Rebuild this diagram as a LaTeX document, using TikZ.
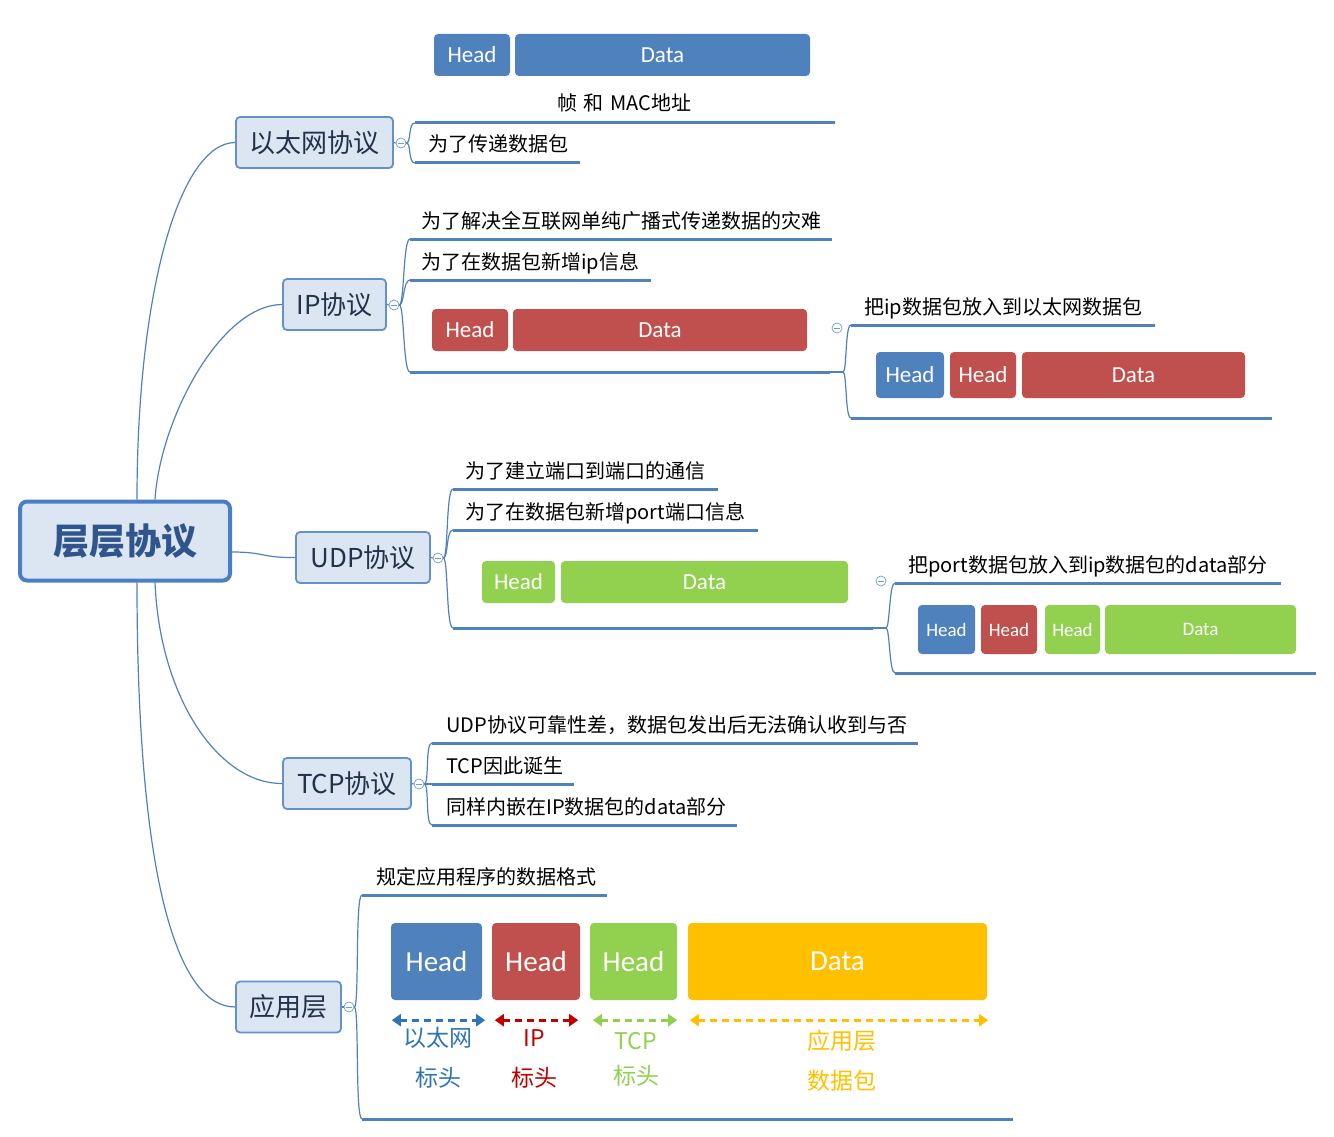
\documentclass[tikz,border=0pt]{standalone}
\usepackage{fontspec}
\setmainfont{Noto Sans CJK SC}
\newfontfamily\lat{Carlito}
\usetikzlibrary{arrows.meta}
\definecolor{lnc}{RGB}{79,129,189}
\definecolor{nfill}{RGB}{220,230,242}
\definecolor{nbord}{RGB}{100,145,200}
\definecolor{rbord}{RGB}{74,126,199}
\definecolor{pblue}{RGB}{79,129,189}
\definecolor{pred}{RGB}{192,80,77}
\definecolor{pgreen}{RGB}{146,208,80}
\definecolor{pyel}{RGB}{255,192,0}
\definecolor{lblue}{RGB}{46,117,182}
\definecolor{lred}{RGB}{192,0,0}
\definecolor{rtext}{RGB}{47,85,140}
\definecolor{ctext}{RGB}{35,50,75}
\tikzset{
  branch/.style={draw=lnc, line width=1.2pt},
  uline/.style={draw=lnc, line width=3pt},
  rootbox/.style={draw=rbord, fill=nfill, rounded corners=7pt, line width=4pt, text=rtext,
    font=\fontsize{36}{40}\selectfont\bfseries, minimum width=210, minimum height=79, inner sep=0},
  child/.style={draw=nbord, fill=nfill, rounded corners=4pt, line width=1.8pt, text=ctext,
    font=\fontsize{26}{30}\selectfont, minimum height=51, inner sep=0},
  sub/.style={font=\fontsize{20}{24}\selectfont, anchor=base west, inner sep=0},
  pk/.style={rounded corners=4pt, text=white, font=\lat\fontsize{23}{26}\selectfont, inner sep=0},
  pks/.style={pk, font=\lat\fontsize{19}{22}\selectfont},
  pkb/.style={pk, font=\lat\fontsize{29}{32}\selectfont},
  marker/.style={circle, draw=lnc!80, line width=0.7pt, minimum size=10pt, inner sep=0, fill=white},
  lab/.style={font=\fontsize{23}{26}\selectfont, inner sep=0},
  darr/.style={line width=2.6pt, dash pattern=on 7pt off 5pt, {Triangle[length=9pt,width=12pt]}-{Triangle[length=9pt,width=12pt]}}
}
\newcommand{\mk}[2]{\node[marker] (#1) at #2 {};
  \draw[lnc!80, line width=0.7pt] ([xshift=-2.8pt]#1.center) -- ([xshift=2.8pt]#1.center);}
\begin{document}
\begin{tikzpicture}[x=1pt,y=-1pt]
\path[use as bounding box] (0,0) rectangle (1334,1137);

% ---------- root and children ----------
\node[rootbox] (root) at (125,541) {层层协议};
\node[child, minimum width=157] (eth) at (314.5,142.5) {以太网协议};
\node[child, minimum width=103] (ip) at (334.5,304.5) {IP协议};
\node[child, minimum width=134] (udp) at (363,557.5) {UDP协议};
\node[child, minimum width=128] (tcp) at (347,783.5) {TCP协议};
\node[child, minimum width=105] (app) at (288.5,1007) {应用层};

\draw[branch] ([xshift=12pt]root.north) .. controls (137,290) and (180,143) .. (eth.west);
\draw[branch] ([xshift=30pt]root.north) .. controls (160,420) and (220,305) .. (ip.west);
\draw[branch] ([yshift=-11pt]root.east) .. controls (265,552) and (262,558) .. (udp.west);
\draw[branch] ([xshift=30pt]root.south) .. controls (160,700) and (220,784) .. (tcp.west);
\draw[branch] ([xshift=12pt]root.south) .. controls (137,890) and (180,1007) .. (app.west);

% ---------- markers ----------
\mk{m1}{(401,143)}
\mk{m2}{(394,305)}
\mk{m3}{(438,558)}
\mk{m4}{(419,784)}
\mk{m5}{(349,1007)}
\mk{m6}{(837,328)}
\mk{m7}{(881,581)}

% ---------- underline coordinates ----------
\coordinate (e1a) at (415,123); \coordinate (e1b) at (835,123);
\coordinate (e2a) at (415,163); \coordinate (e2b) at (580,163);
\coordinate (i1a) at (410,239); \coordinate (i1b) at (832,239);
\coordinate (i2a) at (410,280); \coordinate (i2b) at (651,280);
\coordinate (i3a) at (410,372); \coordinate (i3b) at (830,372);
\coordinate (ic0) at (843,372);
\coordinate (ic1a) at (851,325); \coordinate (ic1b) at (1155,325);
\coordinate (ic2a) at (851,418); \coordinate (ic2b) at (1272,418);
\coordinate (u1a) at (453,489); \coordinate (u1b) at (718,489);
\coordinate (u2a) at (453,530); \coordinate (u2b) at (758,530);
\coordinate (u3a) at (453,628); \coordinate (u3b) at (873,628);
\coordinate (uc0) at (886,628);
\coordinate (uc1a) at (895,583); \coordinate (uc1b) at (1281,583);
\coordinate (uc2a) at (895,673); \coordinate (uc2b) at (1316,673);
\coordinate (t1a) at (432,743); \coordinate (t1b) at (918,743);
\coordinate (t2a) at (432,784); \coordinate (t2b) at (574,784);
\coordinate (t3a) at (432,825); \coordinate (t3b) at (737,825);
\coordinate (a1a) at (362,895); \coordinate (a1b) at (607,895);
\coordinate (a2a) at (362,1119); \coordinate (a2b) at (1013,1119);

% child to marker stubs
\foreach \c/\m in {eth/m1, ip/m2, udp/m3, tcp/m4, app/m5}
  \draw[branch] (\c.east) -- (\m.west);

% ---------- brackets ----------
\foreach \m/\t in {m1/e1a, m1/e2a, m2/i1a, m2/i2a, m2/i3a, m3/u1a, m3/u2a, m3/u3a,
                   m4/t1a, m4/t2a, m4/t3a, m5/a1a, m5/a2a}
  \draw[branch] (\m.east) .. controls ([xshift=5pt]\m.east) and ([xshift=-7pt]\t) .. (\t);
\draw[branch] (i3b) -- (ic0);
\draw[branch] (u3b) -- (uc0);
\foreach \s/\t in {ic0/ic1a, ic0/ic2a, uc0/uc1a, uc0/uc2a}
  \draw[branch] (\s) .. controls ([xshift=4pt]\s) and ([xshift=-6pt]\t) .. (\t);

% ---------- underlines ----------
\foreach \a/\b in {e1a/e1b, e2a/e2b, i1a/i1b, i2a/i2b, i3a/i3b, ic1a/ic1b, ic2a/ic2b,
                   u1a/u1b, u2a/u2b, u3a/u3b, uc1a/uc1b, uc2a/uc2b,
                   t1a/t1b, t2a/t2b, t3a/t3b, a1a/a1b, a2a/a2b}
  \draw[uline] (\a) -- (\b);

% ---------- texts ----------
\node[sub] (te1) at (557,111) {帧\,\,和\,\,MAC地址};
\node[sub] (te2) at (428,152) {为了传递数据包};
\node[sub] (ti1) at (421,228) {为了解决全互联网单纯广播式传递数据的灾难};
\node[sub] (ti2) at (421,269) {为了在数据包新增ip信息};
\node[sub] (tic) at (864,314) {把ip数据包放入到以太网数据包};
\node[sub] (tu1) at (465,478) {为了建立端口到端口的通信};
\node[sub] (tu2) at (465,519) {为了在数据包新增port端口信息};
\node[sub] (tuc) at (908,572) {把port数据包放入到ip数据包的data部分};
\node[sub] (tt1) at (446,732) {UDP协议可靠性差，数据包发出后无法确认收到与否};
\node[sub] (tt2) at (446,773) {TCP因此诞生};
\node[sub] (tt3) at (446,814) {同样内嵌在IP数据包的data部分};
\node[sub] (ta1) at (376,884) {规定应用程序的数据格式};

% ---------- packets ----------
\node[pk, fill=pblue, minimum width=76, minimum height=42] (pe1) at (472,55) {Head};
\node[pk, fill=pblue, minimum width=295, minimum height=42] (pe2) at (662.5,55) {Data};

\node[pk, fill=pred, minimum width=76, minimum height=42] (pi1) at (470,330) {Head};
\node[pk, fill=pred, minimum width=294, minimum height=42] (pi2) at (660,330) {Data};

\node[pk, fill=pblue, minimum width=68, minimum height=46] (pc1) at (910,375) {Head};
\node[pk, fill=pred, minimum width=66, minimum height=46] (pc2) at (983,375) {Head};
\node[pk, fill=pred, minimum width=223, minimum height=46] (pc3) at (1133.5,375) {Data};

\node[pk, fill=pgreen, minimum width=73, minimum height=42] (pu1) at (518.5,582) {Head};
\node[pk, fill=pgreen, minimum width=287, minimum height=42] (pu2) at (704.5,582) {Data};

\node[pks, fill=pblue, minimum width=57, minimum height=49] (pd1) at (946.5,629.5) {Head};
\node[pks, fill=pred, minimum width=56, minimum height=49] (pd2) at (1009,629.5) {Head};
\node[pks, fill=pgreen, minimum width=55, minimum height=49] (pd3) at (1072.5,629.5) {Head};
\node[pks, fill=pgreen, minimum width=191, minimum height=49] (pd4) at (1200.5,629.5) {Data};

\node[pkb, fill=pblue, minimum width=91, minimum height=77] (pa1) at (436.5,961.5) {Head};
\node[pkb, fill=pred, minimum width=88, minimum height=77] (pa2) at (536,961.5) {Head};
\node[pkb, fill=pgreen, minimum width=87, minimum height=77] (pa3) at (633.5,961.5) {Head};
\node[pkb, fill=pyel, minimum width=299, minimum height=77] (pa4) at (837.5,961.5) {Data};

% ---------- dashed arrows ----------
\draw[darr, lblue] ([xshift=1pt,yshift=-20pt]pa1.south west) -- ([xshift=3pt,yshift=-20pt]pa1.south east);
\draw[darr, lred] ([xshift=3pt,yshift=-20pt]pa2.south west) -- ([xshift=-2pt,yshift=-20pt]pa2.south east);
\draw[darr, pgreen] ([xshift=3pt,yshift=-20pt]pa3.south west) -- ([xshift=0pt,yshift=-20pt]pa3.south east);
\draw[darr, pyel] ([xshift=2pt,yshift=-20pt]pa4.south west) -- ([xshift=1pt,yshift=-20pt]pa4.south east);

% ---------- labels ----------
\node[lab, text=lblue] (l1a) at (438,1038) {以太网};
\node[lab, text=lblue] (l1b) at (438,1078) {标头};
\node[lab, text=lred] (l2a) at (534,1038) {IP};
\node[lab, text=lred] (l2b) at (534,1078) {标头};
\node[lab, text=pgreen] (l3a) at (636,1041) {TCP};
\node[lab, text=pgreen] (l3b) at (636,1076) {标头};
\node[lab, text=pyel] (l4a) at (842,1041) {应用层};
\node[lab, text=pyel] (l4b) at (842,1081) {数据包};
\end{tikzpicture}
\end{document}
